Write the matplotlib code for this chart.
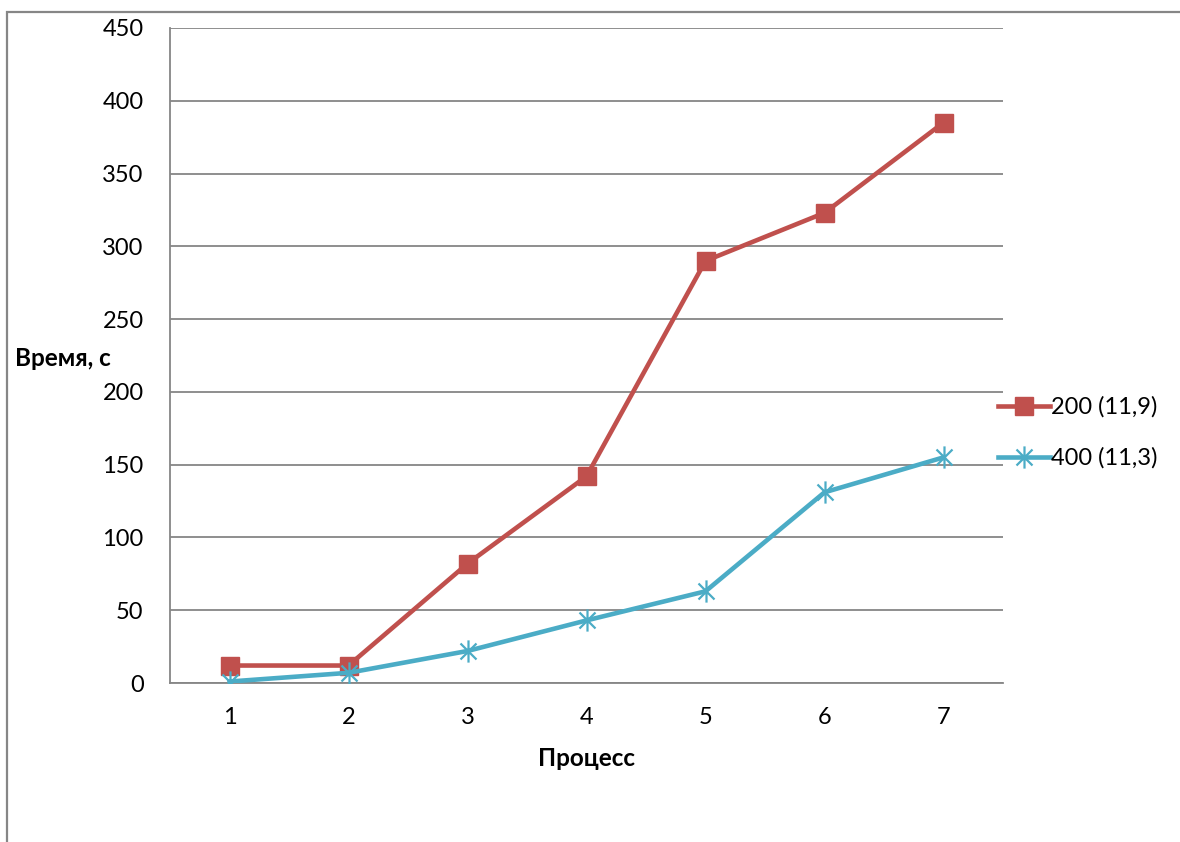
import matplotlib
matplotlib.use("Agg")
import matplotlib.pyplot as plt
from matplotlib.path import Path
from matplotlib.patches import Rectangle

plt.rcParams['font.family'] = ['Lato', 'DejaVu Sans']

processes = [1, 2, 3, 4, 5, 6, 7]
series_200 = [12, 12, 82, 142, 290, 323, 385]
series_400 = [1, 7, 22, 43, 63, 131, 155]
label_200 = "200 (11,9)"
label_400 = "400 (11,3)"
y_ticks = [0, 50, 100, 150, 200, 250, 300, 350, 400, 450]

red = "#C0504D"
blue = "#4BACC6"
grid_gray = "#868686"

# asterisk-style marker: vertical bar plus a diagonal cross
star_path = Path(
    [(0, -1), (0, 1), (-0.72, -0.72), (0.72, 0.72), (-0.72, 0.72), (0.72, -0.72)],
    [Path.MOVETO, Path.LINETO, Path.MOVETO, Path.LINETO, Path.MOVETO, Path.LINETO],
)

fig = plt.figure(figsize=(11.8, 8.42), dpi=100)
fig.patches.append(Rectangle((7 / 1180, -0.05), 1.2, 1 - 12 / 842 + 0.05,
                             transform=fig.transFigure, fill=False,
                             edgecolor=grid_gray, linewidth=1.6, zorder=0))

ax = fig.add_axes([170 / 1180, 1 - 683 / 842, (1003 - 170) / 1180, (683 - 28) / 842])

ax.plot(processes, series_200, color=red, linewidth=3.3, marker='s',
        markersize=13, markerfacecolor=red, markeredgecolor=red,
        label=label_200, zorder=3)
ax.plot(processes, series_400, color=blue, linewidth=3.3, marker=star_path,
        markersize=16, markeredgewidth=1.6, markeredgecolor=blue,
        label=label_400, zorder=4)

ax.set_xlim(0.5, 7.5)
ax.set_ylim(0, 450)
ax.set_yticks(y_ticks)
ax.set_xticks(processes)
ax.grid(axis='y', color=grid_gray, linewidth=1.3)
ax.set_axisbelow(True)
for side in ['top', 'right']:
    ax.spines[side].set_visible(False)
for side in ['left', 'bottom']:
    ax.spines[side].set_color(grid_gray)
    ax.spines[side].set_linewidth(1.3)
ax.tick_params(axis='both', length=0, labelsize=17)
ax.tick_params(axis='y', pad=19)
ax.tick_params(axis='x', pad=17)

fig.text(15 / 1180, 1 - 358 / 842, "Время, с", fontsize=17.5, fontweight='bold',
         ha='left', va='center')
fig.text(587 / 1180, 1 - 758 / 842, "Процесс", fontsize=17.5, fontweight='bold',
         ha='center', va='center')

ax.legend(loc='center left', bbox_to_anchor=(0.983, 0.382), frameon=False,
          fontsize=17, handlelength=2.2, handletextpad=0.05, labelspacing=1.25,
          borderaxespad=0)

fig.savefig("out.png", dpi=100)
